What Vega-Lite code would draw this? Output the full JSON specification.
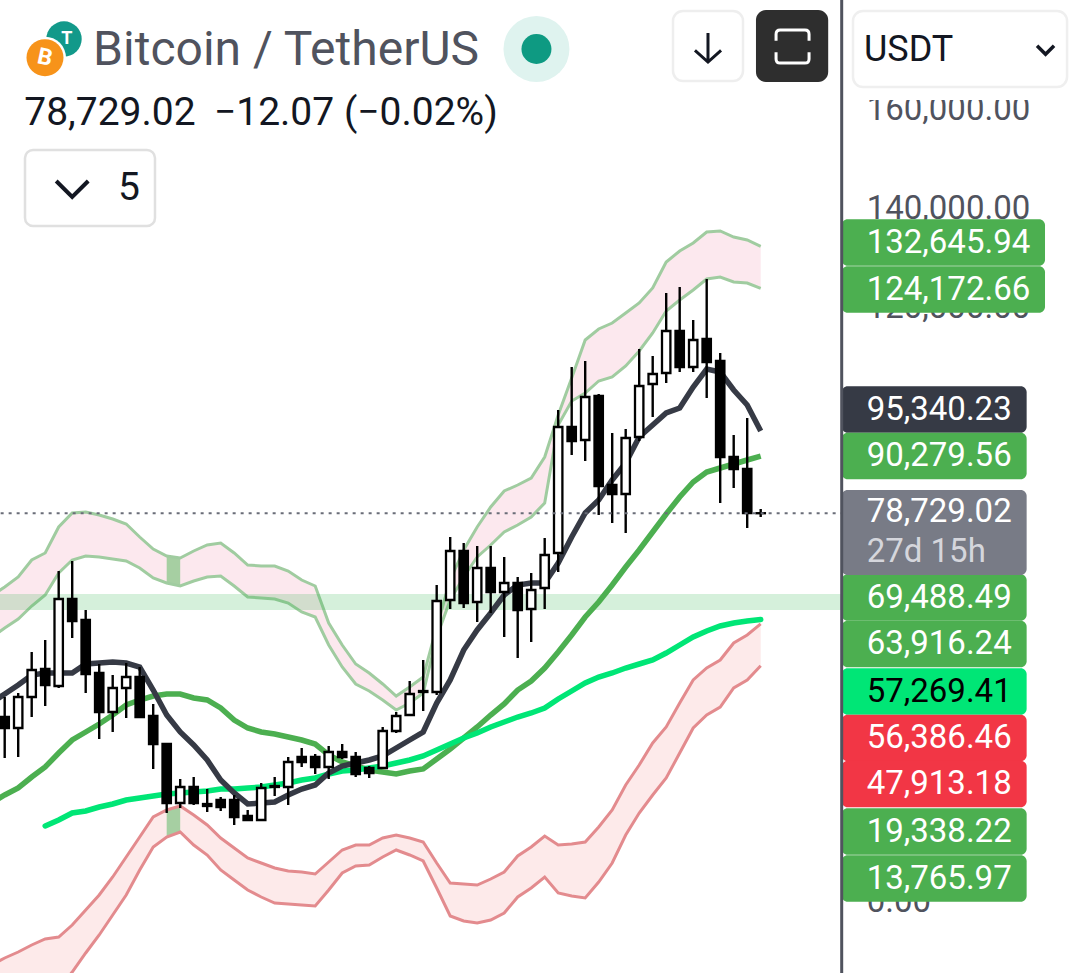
{
  "$schema": "https://vega.github.io/schema/vega-lite/v6.json",
  "width": 1080,
  "height": 973,
  "padding": 0,
  "autosize": "none",
  "background": "#ffffff",
  "datasets": {
    "bars": [
      {"bar":-1,"ma20":40400,"ma50":20200,"upperTop":62014,"upperBottom":53530,"lowerTop":-12524,"lowerBottom":-31714},
      {"bar":0,"open":37572,"high":41612,"low":29290,"close":35350,"ma20":42218,"ma50":21816,"upperTop":63832,"upperBottom":55550,"lowerTop":-11110,"lowerBottom":-29694},
      {"bar":1,"open":35350,"high":42420,"low":29492,"close":41612,"ma20":44036,"ma50":23230,"upperTop":65852,"upperBottom":57368,"lowerTop":-9898,"lowerBottom":-26664},
      {"bar":2,"open":41612,"high":50702,"low":37572,"close":47066,"ma20":46056,"ma50":25452,"upperTop":69286,"upperBottom":59994,"lowerTop":-8484,"lowerBottom":-23634},
      {"bar":3,"open":47268,"high":53126,"low":39794,"close":44036,"ma20":46460,"ma50":27472,"ma200":15554,"upperTop":70700,"upperBottom":62216,"lowerTop":-7272,"lowerBottom":-20604},
      {"bar":4,"open":43834,"high":67064,"low":43430,"close":61408,"ma20":46460,"ma50":30300,"ma200":16766,"upperTop":75952,"upperBottom":66660,"lowerTop":-6868,"lowerBottom":-17574},
      {"bar":5,"open":61408,"high":69084,"low":53530,"close":56964,"ma20":46460,"ma50":32926,"ma200":18180,"upperTop":78780,"upperBottom":69286,"lowerTop":-4444,"lowerBottom":-13938},
      {"bar":6,"open":57166,"high":59186,"low":42420,"close":46258,"ma20":48278,"ma50":34542,"ma200":18584,"upperTop":78982,"upperBottom":70094,"lowerTop":-1414,"lowerBottom":-10100},
      {"bar":7,"open":46460,"high":48278,"low":33128,"close":38582,"ma20":48480,"ma50":36158,"ma200":19392,"upperTop":78376,"upperBottom":69892,"lowerTop":1616,"lowerBottom":-6464},
      {"bar":8,"open":38582,"high":46056,"low":34542,"close":43430,"ma20":48682,"ma50":37976,"ma200":19998,"upperTop":77568,"upperBottom":69488,"lowerTop":5252,"lowerBottom":-2424},
      {"bar":9,"open":43430,"high":48480,"low":37370,"close":45652,"ma20":48480,"ma50":39996,"ma200":20806,"upperTop":76558,"upperBottom":69084,"lowerTop":9292,"lowerBottom":1616},
      {"bar":10,"open":45652,"high":47672,"low":37572,"close":37572,"ma20":47672,"ma50":41006,"ma200":21210,"upperTop":73932,"upperBottom":67670,"lowerTop":13332,"lowerBottom":6666},
      {"bar":11,"open":37774,"high":40198,"low":27068,"close":32118,"ma20":43026,"ma50":41814,"ma200":21614,"upperTop":71508,"upperBottom":65650,"lowerTop":17372,"lowerBottom":11312},
      {"bar":12,"open":32118,"high":32320,"low":18180,"close":20200,"ma20":37976,"ma50":42218,"ma200":22018,"upperTop":70094,"upperBottom":64640,"lowerTop":18786,"lowerBottom":13332},
      {"bar":13,"open":20200,"high":25048,"low":19190,"close":23432,"ma20":34542,"ma50":42218,"ma200":22220,"upperTop":69690,"upperBottom":64034,"lowerTop":19594,"lowerBottom":14342},
      {"bar":14,"open":23432,"high":25452,"low":19796,"close":20200,"ma20":31916,"ma50":41410,"ma200":22422,"upperTop":71104,"upperBottom":65044,"lowerTop":17776,"lowerBottom":11716},
      {"bar":15,"open":19998,"high":23028,"low":18382,"close":19594,"ma20":28886,"ma50":41006,"ma200":22624,"upperTop":72316,"upperBottom":65852,"lowerTop":15756,"lowerBottom":9696},
      {"bar":16,"open":20806,"high":21412,"low":18584,"close":19392,"ma20":24846,"ma50":39390,"ma200":23028,"upperTop":72720,"upperBottom":66054,"lowerTop":13130,"lowerBottom":6666},
      {"bar":17,"open":20806,"high":21816,"low":15756,"close":17372,"ma20":22220,"ma50":36966,"ma200":23028,"upperTop":70700,"upperBottom":64034,"lowerTop":11110,"lowerBottom":4646},
      {"bar":18,"open":17574,"high":18786,"low":16766,"close":16766,"ma20":19998,"ma50":35350,"ma200":23230,"upperTop":68276,"upperBottom":61812,"lowerTop":9090,"lowerBottom":2626},
      {"bar":19,"open":16766,"high":24240,"low":16766,"close":23230,"ma20":20200,"ma50":34542,"ma200":23432,"upperTop":68074,"upperBottom":61610,"lowerTop":8080,"lowerBottom":1212},
      {"bar":20,"open":23634,"high":25452,"low":21614,"close":23432,"ma20":20402,"ma50":34138,"ma200":23836,"upperTop":68074,"upperBottom":61408,"lowerTop":7070,"lowerBottom":0},
      {"bar":21,"open":23432,"high":29492,"low":19796,"close":28482,"ma20":21816,"ma50":33532,"ma200":24240,"upperTop":67064,"upperBottom":60600,"lowerTop":6464,"lowerBottom":-202},
      {"bar":22,"open":29492,"high":31310,"low":27472,"close":28482,"ma20":23028,"ma50":32926,"ma200":24846,"upperTop":65246,"upperBottom":58782,"lowerTop":6262,"lowerBottom":-404},
      {"bar":23,"open":29492,"high":30098,"low":26058,"close":27472,"ma20":23836,"ma50":32118,"ma200":25250,"upperTop":64034,"upperBottom":57772,"lowerTop":5858,"lowerBottom":-606},
      {"bar":24,"open":27472,"high":31714,"low":25048,"close":30502,"ma20":26260,"ma50":29896,"ma200":26058,"upperTop":56560,"upperBottom":52116,"lowerTop":8282,"lowerBottom":2626},
      {"bar":25,"open":30502,"high":32118,"low":29088,"close":29492,"ma20":27674,"ma50":28482,"ma200":26664,"upperTop":52116,"upperBottom":47672,"lowerTop":10706,"lowerBottom":6060},
      {"bar":26,"open":29492,"high":30502,"low":25452,"close":26058,"ma20":28280,"ma50":27674,"ma200":26866,"upperTop":48278,"upperBottom":44238,"lowerTop":11716,"lowerBottom":7474},
      {"bar":27,"open":27270,"high":27674,"low":25250,"close":26260,"ma20":28886,"ma50":26866,"ma200":27270,"upperTop":46460,"upperBottom":42824,"lowerTop":11716,"lowerBottom":7676},
      {"bar":28,"open":27270,"high":35552,"low":27068,"close":34744,"ma20":29694,"ma50":26462,"ma200":27674,"upperTop":44238,"upperBottom":41006,"lowerTop":13130,"lowerBottom":9292},
      {"bar":29,"open":34744,"high":38582,"low":34340,"close":37774,"ma20":31310,"ma50":26058,"ma200":28280,"upperTop":41814,"upperBottom":38986,"lowerTop":13736,"lowerBottom":10706},
      {"bar":30,"open":37976,"high":44844,"low":37774,"close":42218,"ma20":32926,"ma50":26664,"ma200":28886,"upperTop":43632,"upperBottom":40400,"lowerTop":13130,"lowerBottom":9696},
      {"bar":31,"open":42824,"high":49086,"low":38784,"close":42622,"ma20":34542,"ma50":27068,"ma200":29694,"upperTop":45652,"upperBottom":42420,"lowerTop":12322,"lowerBottom":8484},
      {"bar":32,"open":42622,"high":64236,"low":42016,"close":61004,"ma20":40400,"ma50":29088,"ma200":30906,"upperTop":55752,"upperBottom":53732,"lowerTop":8080,"lowerBottom":3030},
      {"bar":33,"open":61206,"high":73932,"low":59388,"close":71104,"ma20":45046,"ma50":31108,"ma200":32118,"upperTop":65246,"upperBottom":61206,"lowerTop":4040,"lowerBottom":-2626},
      {"bar":34,"open":71104,"high":72720,"low":59590,"close":60600,"ma20":51106,"ma50":33330,"ma200":33330,"upperTop":71306,"upperBottom":65852,"lowerTop":3838,"lowerBottom":-3636},
      {"bar":35,"open":60802,"high":72114,"low":56762,"close":67670,"ma20":55146,"ma50":35552,"ma200":34340,"upperTop":75952,"upperBottom":69892,"lowerTop":3636,"lowerBottom":-4040},
      {"bar":36,"open":67670,"high":72114,"low":58580,"close":62822,"ma20":58580,"ma50":37976,"ma200":35552,"upperTop":79992,"upperBottom":72316,"lowerTop":4848,"lowerBottom":-3434},
      {"bar":37,"open":62822,"high":69892,"low":53732,"close":64640,"ma20":62216,"ma50":40198,"ma200":36562,"upperTop":83224,"upperBottom":74942,"lowerTop":6262,"lowerBottom":-2020},
      {"bar":38,"open":64640,"high":65852,"low":49490,"close":59186,"ma20":64236,"ma50":43026,"ma200":37572,"upperTop":84436,"upperBottom":76356,"lowerTop":9494,"lowerBottom":1212},
      {"bar":39,"open":59388,"high":66660,"low":52722,"close":63226,"ma20":64640,"ma50":44844,"ma200":38380,"upperTop":85850,"upperBottom":77972,"lowerTop":11312,"lowerBottom":3030},
      {"bar":40,"open":63630,"high":73730,"low":59388,"close":70296,"ma20":64640,"ma50":47470,"ma200":39390,"upperTop":90092,"upperBottom":80800,"lowerTop":13534,"lowerBottom":5252},
      {"bar":41,"open":70700,"high":99586,"low":66862,"close":96152,"ma20":68680,"ma50":50702,"ma200":41208,"upperTop":98576,"upperBottom":96556,"lowerTop":11716,"lowerBottom":2020},
      {"bar":42,"open":96152,"high":108272,"low":90496,"close":93324,"ma20":73932,"ma50":54136,"ma200":42824,"upperTop":106050,"upperBottom":101404,"lowerTop":11918,"lowerBottom":1414},
      {"bar":43,"open":93526,"high":109484,"low":89284,"close":102212,"ma20":78780,"ma50":57772,"ma200":44440,"upperTop":113726,"upperBottom":103020,"lowerTop":12322,"lowerBottom":1010},
      {"bar":44,"open":102414,"high":102818,"low":78376,"close":84234,"ma20":81406,"ma50":60802,"ma200":45652,"upperTop":115948,"upperBottom":105444,"lowerTop":15352,"lowerBottom":4242},
      {"bar":45,"open":84436,"high":94940,"low":76760,"close":82618,"ma20":85446,"ma50":64236,"ma200":46460,"upperTop":117160,"upperBottom":106252,"lowerTop":18786,"lowerBottom":8080},
      {"bar":46,"open":82618,"high":95748,"low":74740,"close":93930,"ma20":88880,"ma50":67872,"ma200":47470,"upperTop":119180,"upperBottom":108474,"lowerTop":23836,"lowerBottom":13736},
      {"bar":47,"open":94132,"high":111908,"low":93324,"close":104434,"ma20":94132,"ma50":71306,"ma200":48278,"upperTop":121200,"upperBottom":111504,"lowerTop":27876,"lowerBottom":18180},
      {"bar":48,"open":104838,"high":110494,"low":98172,"close":106858,"ma20":96556,"ma50":74942,"ma200":49086,"upperTop":124230,"upperBottom":115140,"lowerTop":32320,"lowerBottom":21816},
      {"bar":49,"open":107060,"high":123220,"low":105040,"close":115544,"ma20":98980,"ma50":78578,"ma200":50500,"upperTop":129482,"upperBottom":119584,"lowerTop":35552,"lowerBottom":25250},
      {"bar":50,"open":115544,"high":124432,"low":107262,"close":108272,"ma20":99990,"ma50":82012,"ma200":52116,"upperTop":131704,"upperBottom":121806,"lowerTop":40400,"lowerBottom":30300},
      {"bar":51,"open":108272,"high":117766,"low":107262,"close":113726,"ma20":104232,"ma50":85042,"ma200":53732,"upperTop":133320,"upperBottom":123826,"lowerTop":45046,"lowerBottom":35350},
      {"bar":52,"open":113928,"high":126048,"low":102010,"close":109282,"ma20":107868,"ma50":87062,"ma200":54944,"upperTop":135542,"upperBottom":126048,"lowerTop":47470,"lowerBottom":37976},
      {"bar":53,"open":109484,"high":111100,"low":80800,"close":90092,"ma20":107262,"ma50":87870,"ma200":55954,"upperTop":135744,"upperBottom":126452,"lowerTop":49086,"lowerBottom":39592},
      {"bar":54,"open":90092,"high":94536,"low":83830,"close":87668,"ma20":103626,"ma50":88678,"ma200":56560,"upperTop":134532,"upperBottom":125442,"lowerTop":52520,"lowerBottom":43430},
      {"bar":55,"open":87668,"high":97970,"low":75750,"close":78780,"ma20":100596,"ma50":89486,"ma200":56964,"upperTop":133926,"upperBottom":125240,"lowerTop":54136,"lowerBottom":45046},
      {"bar":56,"open":78741.09,"high":79588,"low":77972,"close":78729.02,"ma20":95340.23,"ma50":90279.56,"ma200":57269.41,"upperTop":132645.94,"upperBottom":124172.66,"lowerTop":56386.46,"lowerBottom":47913.18}
    ],
    "ticks": [
      {"price":0},{"price":120000},{"price":140000},{"price":160000}
    ],
    "tags": [
      {"label":"132,645.94","level":133421,"kind":"green"},
      {"label":"124,172.66","level":123927,"kind":"green"},
      {"label":"95,340.23","level":99687,"kind":"dark"},
      {"label":"90,279.56","level":90294,"kind":"green"},
      {"label":"69,488.49","level":61711,"kind":"green"},
      {"label":"63,916.24","level":52318,"kind":"green"},
      {"label":"57,269.41","level":42723,"kind":"bright"},
      {"label":"56,386.46","level":33330,"kind":"red"},
      {"label":"47,913.18","level":24038,"kind":"red"},
      {"label":"19,338.22","level":14443,"kind":"green"},
      {"label":"13,765.97","level":4949,"kind":"green"}
    ]
  },
  "config": {
    "view": {"stroke": null},
    "axis": {"disable": true},
    "legend": {"disable": true},
    "text": {"font": "Roboto"}
  },
  "layer": [
    {
      "data": {"name": "bars"},
      "mark": {"type": "area", "color": "#fce8ee", "clip": true},
      "encoding": {
        "x": {"field": "bar", "type": "quantitative", "scale": {"domain": [-0.348, 79.652], "nice": false, "zero": false, "padding": 0}},
        "y": {"field": "upperTop", "type": "quantitative", "scale": {"domain": [-14140, 182406], "nice": false, "zero": false, "padding": 0}},
        "y2": {"field": "upperBottom"}
      }
    },
    {
      "data": {"name": "bars"},
      "mark": {"type": "area", "color": "#fdeaea", "clip": true},
      "encoding": {"x": {"field": "bar", "type": "quantitative"}, "y": {"field": "lowerTop", "type": "quantitative"}, "y2": {"field": "lowerBottom"}}
    },
    {
      "data": {"name": "bars"},
      "transform": [{"filter": "datum.bar == 12 || datum.bar == 13"}],
      "mark": {"type": "area", "color": "#a6cfa2"},
      "encoding": {"x": {"field": "bar", "type": "quantitative"}, "y": {"field": "upperTop", "type": "quantitative"}, "y2": {"field": "upperBottom"}}
    },
    {
      "data": {"name": "bars"},
      "transform": [{"filter": "datum.bar == 12 || datum.bar == 13"}],
      "mark": {"type": "area", "color": "#a6cfa2"},
      "encoding": {"x": {"field": "bar", "type": "quantitative"}, "y": {"field": "lowerTop", "type": "quantitative"}, "y2": {"field": "lowerBottom"}}
    },
    {
      "data": {"name": "bars"},
      "mark": {"type": "line", "color": "#a0cca0", "strokeWidth": 3, "clip": true},
      "encoding": {"x": {"field": "bar", "type": "quantitative"}, "y": {"field": "upperTop", "type": "quantitative"}}
    },
    {
      "data": {"name": "bars"},
      "mark": {"type": "line", "color": "#a0cca0", "strokeWidth": 3, "clip": true},
      "encoding": {"x": {"field": "bar", "type": "quantitative"}, "y": {"field": "upperBottom", "type": "quantitative"}}
    },
    {
      "data": {"name": "bars"},
      "mark": {"type": "line", "color": "#e38b8e", "strokeWidth": 3, "clip": true},
      "encoding": {"x": {"field": "bar", "type": "quantitative"}, "y": {"field": "lowerTop", "type": "quantitative"}}
    },
    {
      "data": {"name": "bars"},
      "mark": {"type": "line", "color": "#e38b8e", "strokeWidth": 3, "clip": true},
      "encoding": {"x": {"field": "bar", "type": "quantitative"}, "y": {"field": "lowerBottom", "type": "quantitative"}}
    },
    {
      "data": {"values": [{}]},
      "mark": {"type": "rect", "color": "#2db34a", "opacity": 0.2, "clip": true},
      "encoding": {"x": {"datum": -1}, "x2": {"datum": 62}, "y": {"datum": 62418}, "y2": {"datum": 59186}}
    },
    {
      "data": {"name": "bars"},
      "mark": {"type": "line", "color": "#4caf50", "strokeWidth": 5.5, "clip": true},
      "encoding": {"x": {"field": "bar", "type": "quantitative"}, "y": {"field": "ma50", "type": "quantitative"}}
    },
    {
      "data": {"name": "bars"},
      "mark": {"type": "line", "color": "#00e676", "strokeWidth": 5.5, "strokeCap": "round", "clip": true},
      "encoding": {"x": {"field": "bar", "type": "quantitative"}, "y": {"field": "ma200", "type": "quantitative"}}
    },
    {
      "data": {"name": "bars"},
      "mark": {"type": "line", "color": "#363a45", "strokeWidth": 5.5, "clip": true},
      "encoding": {"x": {"field": "bar", "type": "quantitative"}, "y": {"field": "ma20", "type": "quantitative"}}
    },
    {
      "data": {"name": "bars"},
      "mark": {"type": "rule", "color": "#000000", "strokeWidth": 2.4},
      "encoding": {"x": {"field": "bar", "type": "quantitative"}, "y": {"field": "high", "type": "quantitative"}, "y2": {"field": "low"}}
    },
    {
      "data": {"name": "bars"},
      "mark": {"type": "bar", "width": 8.4, "stroke": "#000000", "strokeWidth": 2.3},
      "encoding": {
        "x": {"field": "bar", "type": "quantitative"},
        "y": {"field": "open", "type": "quantitative"},
        "y2": {"field": "close"},
        "fill": {"condition": {"test": "datum.close > datum.open", "value": "#ffffff"}, "value": "#000000"}
      }
    },
    {
      "data": {"values": [{}]},
      "mark": {"type": "rule", "color": "#6a6d78", "strokeWidth": 2, "strokeDash": [3, 5], "clip": true},
      "encoding": {"x": {"datum": -0.3}, "x2": {"datum": 62}, "y": {"datum": 78729.02}}
    },
    {
      "data": {"name": "ticks"},
      "mark": {"type": "text", "align": "left", "baseline": "middle", "fontSize": 33, "color": "#50535e", "dy": -1},
      "encoding": {
        "x": {"datum": 63.85},
        "y": {"field": "price", "type": "quantitative"},
        "text": {"field": "price", "format": ",.2f"}
      }
    },
    {
      "data": {"values": [{}]},
      "mark": {"type": "rect", "color": "#ffffff"},
      "encoding": {"x": {"datum": 62.3}, "x2": {"datum": 79.6}, "y": {"datum": 164630}, "y2": {"datum": 162206}}
    },
    {
      "data": {"name": "tags"},
      "transform": [{"filter": "length(datum.label) > 9"}],
      "mark": {"type": "rect", "height": 46.7, "cornerRadius": 6},
      "encoding": {
        "x": {"datum": 62}, "x2": {"datum": 77.06},
        "y": {"field": "level", "type": "quantitative"},
        "color": {"field": "kind", "type": "nominal", "scale": {"domain": ["green", "dark", "bright", "red"], "range": ["#4caf50", "#363a45", "#00e676", "#f23645"]}}
      }
    },
    {
      "data": {"name": "tags"},
      "transform": [{"filter": "length(datum.label) <= 9"}],
      "mark": {"type": "rect", "height": 46.7, "cornerRadius": 6},
      "encoding": {
        "x": {"datum": 62}, "x2": {"datum": 75.7},
        "y": {"field": "level", "type": "quantitative"},
        "color": {"field": "kind", "type": "nominal", "scale": {"domain": ["green", "dark", "bright", "red"], "range": ["#4caf50", "#363a45", "#00e676", "#f23645"]}}
      }
    },
    {
      "data": {"values": [{}]},
      "mark": {"type": "rect", "color": "#787b86", "cornerRadius": 6},
      "encoding": {"x": {"datum": 62}, "x2": {"datum": 75.7}, "y": {"datum": 83426}, "y2": {"datum": 66256}}
    },
    {
      "data": {"name": "tags"},
      "mark": {"type": "text", "align": "left", "baseline": "middle", "fontSize": 33, "dy": 0},
      "encoding": {
        "x": {"datum": 63.85},
        "y": {"field": "level", "type": "quantitative"},
        "text": {"field": "label"},
        "fill": {"condition": {"test": "datum.kind == 'bright'", "value": "#000000"}, "value": "#ffffff"}
      }
    },
    {
      "data": {"values": [{"label": "78,729.02"}]},
      "mark": {"type": "text", "align": "left", "baseline": "middle", "fontSize": 33, "color": "#ffffff"},
      "encoding": {"x": {"datum": 63.85}, "y": {"datum": 78982}, "text": {"field": "label"}}
    },
    {
      "data": {"values": [{"label": "27d 15h"}]},
      "mark": {"type": "text", "align": "left", "baseline": "middle", "fontSize": 33, "color": "#d5d6dc"},
      "encoding": {"x": {"datum": 63.85}, "y": {"datum": 70902}, "text": {"field": "label"}}
    },
    {
      "data": {"values": [{}]},
      "mark": {"type": "rule", "color": "#50535e", "strokeWidth": 3},
      "encoding": {"x": {"datum": 62}}
    },
    {
      "data": {"values": [{}]},
      "mark": {"type": "point", "shape": "circle", "filled": true, "size": 1253, "color": "#12998a", "opacity": 1},
      "encoding": {"x": {"datum": 4.393}, "y": {"datum": 174528}}
    },
    {
      "data": {"values": [{"label": "T"}]},
      "mark": {"type": "text", "fontSize": 18, "fontWeight": "bold", "color": "#ffffff", "baseline": "middle", "align": "center"},
      "encoding": {"x": {"datum": 4.6}, "y": {"datum": 174528}, "text": {"field": "label"}}
    },
    {
      "data": {"values": [{}]},
      "mark": {"type": "point", "shape": "circle", "filled": true, "size": 1764, "color": "#ffffff", "opacity": 1},
      "encoding": {"x": {"datum": 2.985}, "y": {"datum": 170751}}
    },
    {
      "data": {"values": [{}]},
      "mark": {"type": "point", "shape": "circle", "filled": true, "size": 1369, "color": "#f7931a", "opacity": 1},
      "encoding": {"x": {"datum": 2.985}, "y": {"datum": 170751}}
    },
    {
      "data": {"values": [{"label": "B"}]},
      "mark": {"type": "text", "fontSize": 23, "fontWeight": "bold", "color": "#ffffff", "baseline": "middle", "align": "center", "angle": 12},
      "encoding": {"x": {"datum": 2.985}, "y": {"datum": 170751}, "text": {"field": "label"}}
    },
    {
      "data": {"values": [{"label": "Bitcoin / TetherUS"}]},
      "mark": {"type": "text", "align": "left", "baseline": "middle", "fontSize": 48, "color": "#50535e"},
      "encoding": {"x": {"datum": 6.55}, "y": {"datum": 172104}, "text": {"field": "label"}}
    },
    {
      "data": {"values": [{}]},
      "mark": {"type": "point", "shape": "circle", "filled": true, "size": 4356, "color": "#dff3ef", "opacity": 1},
      "encoding": {"x": {"datum": 39.39}, "y": {"datum": 172508}}
    },
    {
      "data": {"values": [{}]},
      "mark": {"type": "point", "shape": "circle", "filled": true, "size": 900, "color": "#0e9a82", "opacity": 1},
      "encoding": {"x": {"datum": 39.39}, "y": {"datum": 172508}}
    },
    {
      "data": {"values": [{"label": "78,729.02"}]},
      "mark": {"type": "text", "align": "left", "baseline": "middle", "fontSize": 39, "color": "#131722"},
      "encoding": {"x": {"datum": 1.45}, "y": {"datum": 159580}, "text": {"field": "label"}}
    },
    {
      "data": {"values": [{"label": "−12.07 (−0.02%)"}]},
      "mark": {"type": "text", "align": "left", "baseline": "middle", "fontSize": 39, "color": "#131722"},
      "encoding": {"x": {"datum": 15.5}, "y": {"datum": 159580}, "text": {"field": "label"}}
    },
    {
      "data": {"values": [{}]},
      "mark": {"type": "rect", "fill": "#ffffff", "stroke": "#e0e0e0", "strokeWidth": 2.5, "cornerRadius": 8},
      "encoding": {"x": {"datum": 1.504}, "x2": {"datum": 11.133}, "y": {"datum": 152106}, "y2": {"datum": 136754}}
    },
    {
      "data": {"values": [{}]},
      "mark": {"type": "point", "shape": "M-1,-0.5L0,0.5L1,-0.5", "filled": false, "size": 1024, "strokeWidth": 4, "color": "#131722", "opacity": 1},
      "encoding": {"x": {"datum": 5.0}, "y": {"datum": 144228}}
    },
    {
      "data": {"values": [{"label": "5"}]},
      "mark": {"type": "text", "align": "center", "baseline": "middle", "fontSize": 39, "color": "#131722"},
      "encoding": {"x": {"datum": 9.2}, "y": {"datum": 144430}, "text": {"field": "label"}}
    },
    {
      "data": {"values": [{}]},
      "mark": {"type": "rect", "fill": "#ffffff", "stroke": "#eeeeee", "strokeWidth": 2.5, "cornerRadius": 10},
      "encoding": {"x": {"datum": 49.504}, "x2": {"datum": 54.689}, "y": {"datum": 180184}, "y2": {"datum": 166044}}
    },
    {
      "data": {"values": [{}]},
      "mark": {"type": "point", "shape": "M0,-1L0,1M-0.9,0.2L0,1L0.9,0.2", "filled": false, "size": 841, "strokeWidth": 3, "color": "#131722", "opacity": 1},
      "encoding": {"x": {"datum": 52.096}, "y": {"datum": 172811}}
    },
    {
      "data": {"values": [{}]},
      "mark": {"type": "rect", "color": "#2e2e2e", "cornerRadius": 10},
      "encoding": {"x": {"datum": 55.65}, "x2": {"datum": 61.0}, "y": {"datum": 180386}, "y2": {"datum": 165842}}
    },
    {
      "data": {"values": [{}]},
      "mark": {"type": "point", "shape": "M-1,-0.35L-1,-0.75Q-1,-1,-0.75,-1L0.75,-1Q1,-1,1,-0.75L1,-0.35M-1,0.35L-1,0.75Q-1,1,-0.75,1L0.75,1Q1,1,1,0.75L1,0.35", "filled": false, "size": 1089, "strokeWidth": 3, "color": "#ffffff", "opacity": 1},
      "encoding": {"x": {"datum": 58.36}, "y": {"datum": 173013}}
    },
    {
      "data": {"values": [{}]},
      "mark": {"type": "rect", "fill": "#ffffff", "stroke": "#efefef", "strokeWidth": 2.5, "cornerRadius": 10},
      "encoding": {"x": {"datum": 62.837}, "x2": {"datum": 78.693}, "y": {"datum": 180184}, "y2": {"datum": 164832}}
    },
    {
      "data": {"values": [{"label": "USDT"}]},
      "mark": {"type": "text", "align": "left", "baseline": "middle", "fontSize": 36, "color": "#131722"},
      "encoding": {"x": {"datum": 63.65}, "y": {"datum": 172306}, "text": {"field": "label"}}
    },
    {
      "data": {"values": [{}]},
      "mark": {"type": "point", "shape": "M-1,-0.5L0,0.5L1,-0.5", "filled": false, "size": 289, "strokeWidth": 3.5, "color": "#131722", "opacity": 1},
      "encoding": {"x": {"datum": 77.1}, "y": {"datum": 172306}}
    }
  ]
}
